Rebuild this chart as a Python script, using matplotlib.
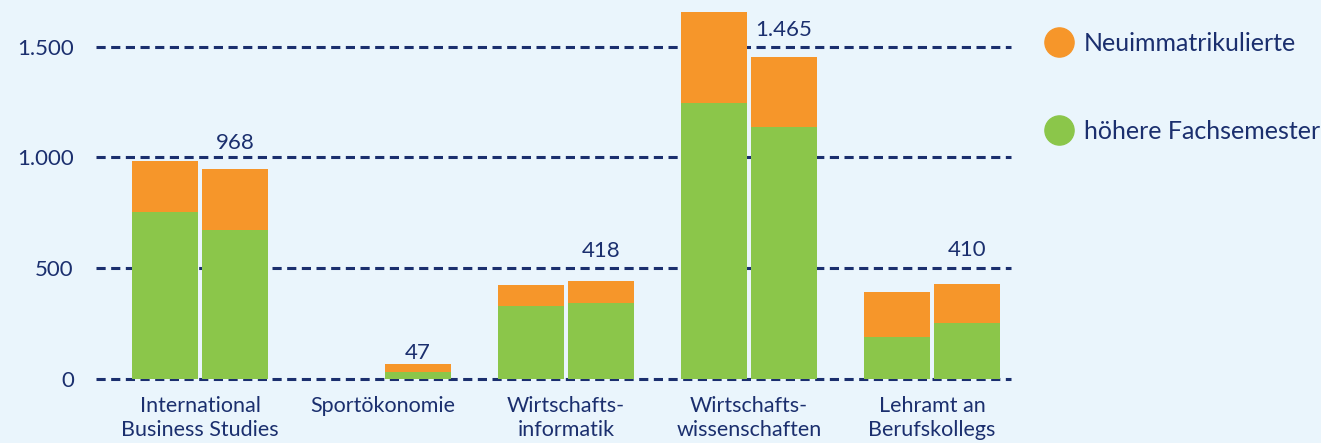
import matplotlib.pyplot as plt
import numpy as np
from matplotlib.lines import Line2D

plt.rcParams['font.family'] = ['Lato', 'DejaVu Sans']

studiengaenge = ["International\nBusiness Studies", "Sportökonomie", "Wirtschafts-\ninformatik",
                 "Wirtschafts-\nwissenschaften", "Lehramt an\nBerufskollegs"]

# linke Säule (Vorjahr), Sportökonomie noch ohne Werte
hoehere_links = [753, 0, 330, 1245, 187]
neu_links = [229, 0, 93, 411, 204]

# rechte Säule
hoehere_rechts = [672, 32, 342, 1137, 252]
neu_rechts = [275, 34, 99, 316, 176]

werte_text = ["968", "47", "418", "1.465", "410"]
werte_text_y = [1066, 115, 578, 1575, 581]

yticks = [0, 500, 1000, 1500]
ytick_labels = ["0", "500", "1.000", "1.500"]

legende = ["Neuimmatrikulierte", "höhere Fachsemester"]

hintergrund = "#eaf5fc"
orange = "#f6962a"
gruen = "#8bc64a"
navy = "#1b2f6e"

fig = plt.figure(figsize=(13.21, 4.43), dpi=100, facecolor=hintergrund)
ax = fig.add_axes([96 / 1321, 0.1352, 915 / 1321, 0.8535], facecolor=hintergrund)

x = np.arange(len(studiengaenge))
breite = 0.36
versatz = 0.191

for y in yticks:
    ax.axhline(y, color=navy, lw=2.2, ls=(0, (3, 1.8)), zorder=1, clip_on=False)

hl = np.array(hoehere_links)
nl = np.array(neu_links)
hr = np.array(hoehere_rechts)
nr = np.array(neu_rechts)
mask = (hl + nl) > 0

ax.bar(x[mask] - versatz, hl[mask], breite, color=gruen, zorder=2)
ax.bar(x[mask] - versatz, nl[mask], breite, bottom=hl[mask], color=orange, zorder=2)
ax.bar(x + versatz, hr, breite, color=gruen, zorder=2)
ax.bar(x + versatz, nr, breite, bottom=hr, color=orange, zorder=2)

for i, (t, ty) in enumerate(zip(werte_text, werte_text_y)):
    ax.text(x[i] + versatz, ty, t, ha='center', va='center', fontsize=16, color=navy, zorder=3)

ax.set_xlim(-0.568, 4.432)
ax.set_ylim(-20, 1688)
ax.set_yticks(yticks)
ax.set_yticklabels(ytick_labels, fontsize=16, color=navy)
ax.set_xticks(x)
ax.set_xticklabels(studiengaenge, fontsize=15.5, color=navy, linespacing=1.25)
ax.tick_params(axis='y', length=0, pad=16)
ax.tick_params(axis='x', length=0, pad=9)
for s in ax.spines.values():
    s.set_visible(False)

handles = [Line2D([], [], ls='none', marker='o', markersize=21, color=orange),
           Line2D([], [], ls='none', marker='o', markersize=21, color=gruen)]
fig.legend(handles, legende, loc='upper left', bbox_to_anchor=(1046 / 1321, 1 - 32 / 443),
           frameon=False, fontsize=18, labelcolor=navy, handlelength=1.0, handletextpad=0.5,
           labelspacing=2.6, borderpad=0, borderaxespad=0)

fig.savefig("out.png", dpi=100, facecolor=hintergrund)
